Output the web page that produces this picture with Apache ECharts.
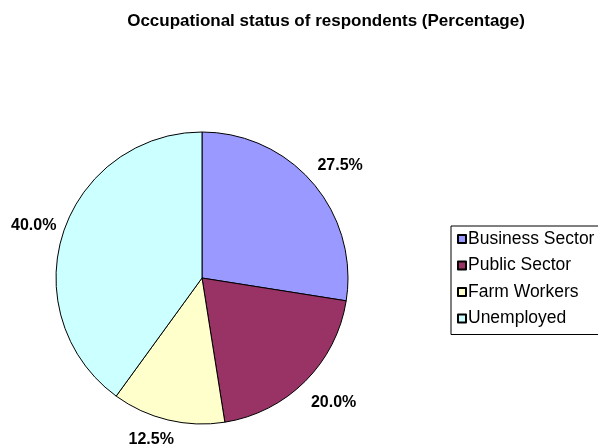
<!DOCTYPE html>
<html>
<head>
<meta charset="utf-8">
<script src="https://cdn.jsdelivr.net/npm/echarts@6/dist/echarts.min.js"></script>
<style>
  html, body { margin: 0; padding: 0; background: #fff; }
  #chart { width: 598px; height: 446px; }
</style>
</head>
<body>
<div id="chart"></div>
<script>
const categories = ['Business Sector', 'Public Sector', 'Farm Workers', 'Unemployed']
const shares = [27.5, 20.0, 12.5, 40.0]
const sliceColors = ['#9999ff', '#993366', '#ffffcc', '#ccffff']

const fontFamily = '"Liberation Sans", Arial, sans-serif'

const chart = echarts.init(document.getElementById('chart'))

const pieData = categories.map((name, i) => ({
  name,
  value: shares[i],
  itemStyle: { color: sliceColors[i] }
}))

// small nudges so the labels sit where Excel put them
const labelNudge = {
  'Business Sector': [2, 4],
  'Public Sector': [5, -2],
  'Farm Workers': [-9, -12],
  'Unemployed': [2, 3]
}

// transparent ring only used to place the percentage labels around the pie
const labelData = categories.map((name, i) => ({
  name,
  value: shares[i],
  label: { offset: labelNudge[name] }
}))

chart.setOption({
  animation: false,
  textStyle: { fontFamily },
  title: {
    text: 'Occupational status of respondents (Percentage)',
    left: 321,
    textAlign: 'center',
    top: 8,
    textStyle: { fontSize: 17, fontWeight: 'bold', color: '#000', fontFamily }
  },
  legend: {
    orient: 'vertical',
    left: 451,
    top: 226,
    data: categories,
    itemWidth: 8,
    itemHeight: 8,
    itemGap: 8.5,
    padding: [4, 40, 7, 6],
    borderColor: '#000',
    borderWidth: 1,
    selectedMode: false,
    icon: 'rect',
    textStyle: { fontSize: 17.5, color: '#000', fontFamily, padding: [0, 0, 0, -3] }
  },
  series: [
    {
      type: 'pie',
      center: [202, 278],
      radius: 146,
      startAngle: 90,
      clockwise: true,
      silent: true,
      label: { show: false },
      labelLine: { show: false },
      itemStyle: { borderColor: '#000', borderWidth: 1 },
      emphasis: { disabled: true },
      data: pieData
    },
    {
      type: 'pie',
      center: [202, 278],
      radius: [164, 188],
      startAngle: 90,
      clockwise: true,
      silent: true,
      itemStyle: { color: 'rgba(0,0,0,0)', borderWidth: 0 },
      emphasis: { disabled: true },
      labelLine: { show: false },
      label: {
        show: true,
        position: 'inside',
        formatter: p => p.value.toFixed(1) + '%',
        fontSize: 16,
        fontWeight: 'bold',
        color: '#000',
        fontFamily
      },
      data: labelData
    }
  ]
})
</script>
</body>
</html>
